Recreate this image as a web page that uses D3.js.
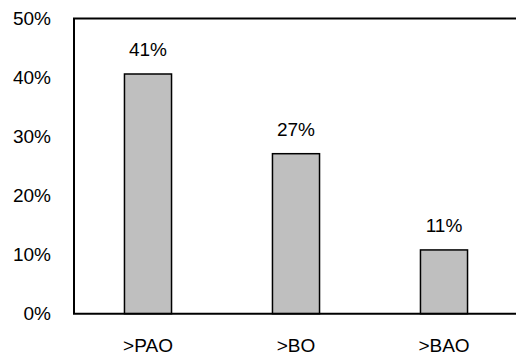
<!DOCTYPE html>
<html>
<head>
<meta charset="utf-8">
<script src="https://cdn.jsdelivr.net/npm/d3@7"></script>
<style>
  html, body { margin: 0; padding: 0; background: #fff; }
  svg { display: block; }
  text { font-family: "Liberation Sans", Arial, sans-serif; fill: #000; }
</style>
</head>
<body>
<svg id="chart" width="516" height="355"></svg>
<script>
// Share of cases above each threshold
const categories = [">PAO", ">BO", ">BAO"];
const values = [0.406, 0.271, 0.108];
const yTicks = [0, 0.1, 0.2, 0.3, 0.4, 0.5];

const W = 516, H = 355;
const margin = { left: 74, top: 18.5, right: -2, bottom: 41.3 };
const innerW = W - margin.left - margin.right;
const innerH = H - margin.top - margin.bottom;
const fontSize = 19;

const svg = d3.select("#chart");
const g = svg.append("g").attr("transform", `translate(${margin.left},${margin.top})`);

const x = d3.scaleBand().domain(categories).range([0, innerW]).paddingInner(0.682).paddingOuter(0.341);
const y = d3.scaleLinear().domain([0, 0.5]).range([innerH, 0]);
const pct = d3.format(".0%");

// Y axis labels (no tick marks, no domain line)
const yAxis = d3.axisLeft(y).tickValues(yTicks).tickFormat(pct).tickSize(0).tickPadding(23);
const yg = g.append("g").call(yAxis);
yg.select(".domain").remove();
yg.selectAll("text").attr("font-size", fontSize).attr("font-family", null).attr("dy", "0.33em");

// X axis labels
const xAxis = d3.axisBottom(x).tickSize(0).tickPadding(25);
const xg = g.append("g").attr("transform", `translate(0,${innerH})`).call(xAxis);
xg.select(".domain").remove();
xg.selectAll("text").attr("font-size", fontSize).attr("font-family", null);

// Bars
g.selectAll("rect.bar")
  .data(values)
  .join("rect")
  .attr("class", "bar")
  .attr("x", (d, i) => x(categories[i]))
  .attr("width", x.bandwidth())
  .attr("y", d => y(d))
  .attr("height", d => innerH - y(d))
  .attr("fill", "#bfbfbf")
  .attr("stroke", "#000")
  .attr("stroke-width", 1.5);

// Value labels
g.selectAll("text.val")
  .data(values)
  .join("text")
  .attr("class", "val")
  .attr("x", (d, i) => x(categories[i]) + x.bandwidth() / 2)
  .attr("y", d => y(d) - 17.8)
  .attr("text-anchor", "middle")
  .attr("font-size", fontSize)
  .text(d => pct(d));

// Plot frame: top, left, bottom
const frame = d3.path();
frame.moveTo(innerW, 0);
frame.lineTo(0, 0);
frame.lineTo(0, innerH);
frame.lineTo(innerW, innerH);
g.append("path")
  .attr("d", frame.toString())
  .attr("fill", "none")
  .attr("stroke", "#000")
  .attr("stroke-width", 2);
</script>
</body>
</html>
